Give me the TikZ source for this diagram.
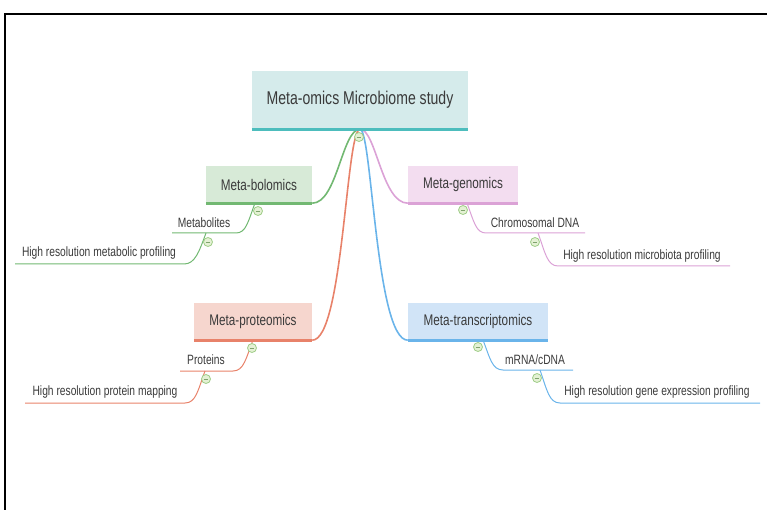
\documentclass[tikz,border=0pt]{standalone}
\usepackage{fontspec}
\setmainfont{Liberation Sans}[FakeStretch=0.76]
\usepackage{tikz}

\definecolor{textgray}{HTML}{3A3A3A}
\definecolor{rootfill}{HTML}{D5EBEB}
\definecolor{rootline}{HTML}{4DBDBD}
\definecolor{bolfill}{HTML}{D7EAD7}
\definecolor{bolline}{HTML}{72B872}
\definecolor{genfill}{HTML}{F3DDF0}
\definecolor{genline}{HTML}{DBA2D6}
\definecolor{profill}{HTML}{F6D6CE}
\definecolor{proline}{HTML}{E8826A}
\definecolor{trafill}{HTML}{D1E4F7}
\definecolor{traline}{HTML}{6AB4EA}
\definecolor{foldfill}{HTML}{E4F1D4}
\definecolor{foldline}{HTML}{9FCD88}

\begin{document}
\begin{tikzpicture}[x=1pt, y=-1pt,
    topic/.style={fill=#1, inner sep=0pt, minimum height=37pt,
        font=\fontsize{15.4}{18}\selectfont, text=textgray},
    leaf/.style={inner sep=0pt, font=\fontsize{13.5}{16}\selectfont, text=textgray},
    fold/.style={circle, draw=foldline, fill=foldfill, line width=0.8pt,
        minimum size=9pt, inner sep=0pt,
        path picture={\draw[foldline!80!black, line width=0.8pt]
            ([xshift=-2.4pt]path picture bounding box.center) --
            ([xshift=2.4pt]path picture bounding box.center);}}]
    \useasboundingbox (0,0) rectangle (767,510);

    % Marco
    \draw[line width=2pt] (767,14.5) -- (5,14.5) -- (5,510);

    % Nodo central
    \node[topic=rootfill, minimum width=216pt, minimum height=58pt,
        font=\fontsize{18.5}{22}\selectfont] (root) at (360,100) {Meta-omics Microbiome study};

    % Temas principales
    \node[topic=bolfill, minimum width=106pt] (bol) at (259,184.5) {Meta-bolomics};
    \node[topic=genfill, minimum width=110pt] (gen) at (463,184.5) {Meta-genomics};
    \node[topic=profill, minimum width=118pt] (pro) at (253,321.5) {Meta-proteomics};
    \node[topic=trafill, minimum width=140pt] (tra) at (478,321.5) {Meta-transcriptomics};

    % Ramas del nodo central
    \draw[bolline, line width=1.6pt] (root.south) .. controls +(-18,0) and +(25,0) .. (bol.south east);
    \draw[genline, line width=1.6pt] (root.south) .. controls +(16,0) and +(-26,0) .. (gen.south west);
    \draw[proline, line width=1.6pt] (root.south) .. controls +(-14,0) and +(31,0) .. (pro.south east);
    \draw[traline, line width=1.6pt] (root.south) .. controls +(12,0) and +(-32,0) .. (tra.south west);

    % Subrayados de los temas
    \draw[rootline, line width=3pt] (root.south west) -- (root.south east);
    \draw[bolline, line width=3pt] (bol.south west) -- (bol.south east);
    \draw[genline, line width=3pt] (gen.south west) -- (gen.south east);
    \draw[proline, line width=3pt] (pro.south west) -- (pro.south east);
    \draw[traline, line width=3pt] (tra.south west) -- (tra.south east);

    % Hojas de Meta-bolomics
    \node[leaf] (metab) at (204,223) {Metabolites};
    \node[leaf] (metabP) at (99,253) {High resolution metabolic profiling};
    \coordinate (bolA) at (255,203);
    \coordinate (metabR) at (236,233);
    \coordinate (metabL) at (172,233);
    \coordinate (metabA) at (206,233);
    \coordinate (metabPR) at (184,264);
    \coordinate (metabPL) at (15,264);
    \draw[bolline, line width=1pt] (bolA) .. controls +(-7,19) and +(10,0) .. (metabR) -- (metabL);
    \draw[bolline, line width=1pt] (metabA) .. controls +(-7,19) and +(11,0) .. (metabPR) -- (metabPL);

    % Hojas de Meta-genomics
    \node[leaf] (chrom) at (535,223) {Chromosomal DNA};
    \node[leaf] (chromP) at (642,256) {High resolution microbiota profiling};
    \coordinate (genA) at (467,203);
    \coordinate (chromL) at (486,233);
    \coordinate (chromR) at (585,233);
    \coordinate (chromA) at (538,233);
    \coordinate (chromPL) at (558,266);
    \coordinate (chromPR) at (730,266);
    \draw[genline, line width=1pt] (genA) .. controls +(7,19) and +(-10,0) .. (chromL) -- (chromR);
    \draw[genline, line width=1pt] (chromA) .. controls +(7,19) and +(-11,0) .. (chromPL) -- (chromPR);

    % Hojas de Meta-proteomics
    \node[leaf] (prot) at (206,360) {Proteins};
    \node[leaf] (protP) at (105,392) {High resolution protein mapping};
    \coordinate (proA) at (253,340);
    \coordinate (protR) at (233,371);
    \coordinate (protL) at (180,371);
    \coordinate (protA) at (205,371);
    \coordinate (protPR) at (185,403);
    \coordinate (protPL) at (25,403);
    \draw[proline, line width=1pt] (proA) .. controls +(-7,18) and +(11,0) .. (protR) -- (protL);
    \draw[proline, line width=1pt] (protA) .. controls +(-7,19) and +(11,0) .. (protPR) -- (protPL);

    % Hojas de Meta-transcriptomics
    \node[leaf] (mrna) at (535,360) {mRNA/cDNA};
    \node[leaf] (mrnaP) at (657,392) {High resolution gene expression profiling};
    \coordinate (traA) at (483,340);
    \coordinate (mrnaL) at (503,370);
    \coordinate (mrnaR) at (573,370);
    \coordinate (mrnaA) at (540,370);
    \coordinate (mrnaPL) at (560,403);
    \coordinate (mrnaPR) at (760,403);
    \draw[traline, line width=1pt] (traA) .. controls +(7,18) and +(-11,0) .. (mrnaL) -- (mrnaR);
    \draw[traline, line width=1pt] (mrnaA) .. controls +(7,20) and +(-11,0) .. (mrnaPL) -- (mrnaPR);

    % Botones de plegado
    \node[fold] (f0) at (359,137) {};
    \node[fold] (f1) at (258,211) {};
    \node[fold] (f2) at (208,242) {};
    \node[fold] (f3) at (463,210) {};
    \node[fold] (f4) at (535,242) {};
    \node[fold] (f5) at (252,348) {};
    \node[fold] (f6) at (206,379) {};
    \node[fold] (f7) at (478,347) {};
    \node[fold] (f8) at (537,378) {};
\end{tikzpicture}
\end{document}
